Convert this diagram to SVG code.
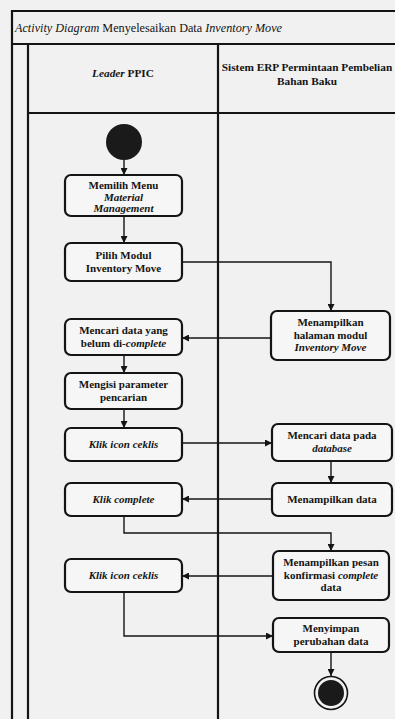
<svg xmlns="http://www.w3.org/2000/svg" width="395" height="719" viewBox="0 0 395 719">
<defs>
<style>
.bg{fill:#f1f1f1}
.lane{stroke:#141414;stroke-width:2.2;fill:none}
.node rect{fill:#f6f6f6;stroke:#141414;stroke-width:2.2}
.node text,.hd{font-family:"Liberation Serif","Times New Roman",serif;font-weight:bold;font-size:11px;fill:#141414;text-anchor:middle}
.hd{font-size:11.3px}
.ttl{font-family:"Liberation Serif","Times New Roman",serif;font-size:12.2px;fill:#141414}
.i{font-style:italic}
#connectors path{stroke:#141414;stroke-width:1.4;fill:none;marker-end:url(#ah)}
</style>
<marker id="ah" viewBox="0 0 10 10" refX="10" refY="5" markerWidth="7" markerHeight="7" markerUnits="userSpaceOnUse" orient="auto">
<path d="M0,0 L10,5 L0,10 z" fill="#141414"/>
</marker>
</defs>
<rect class="bg" x="0" y="0" width="395" height="719"/>
<g id="frame">
<path class="lane" d="M12,719 V11 H398 M12,44 H398 M28,44 V719 M218,44 V719 M28,113 H398"/>
<text class="ttl" x="15" y="32"><tspan class="i">Activity Diagram</tspan> Menyelesaikan Data <tspan class="i">Inventory Move</tspan></text>
<text class="hd" x="123" y="77"><tspan class="i">Leader</tspan> PPIC</text>
<text class="hd" x="307" y="71">Sistem ERP Permintaan Pembelian</text>
<text class="hd" x="307" y="85">Bahan Baku</text>
</g>
<g id="connectors">
<path d="M124,160 V175"/>
<path d="M124,216 V243"/>
<path d="M182,262 H331 V311"/>
<path d="M271,338 H182"/>
<path d="M124,355 V373"/>
<path d="M124,409 V428"/>
<path d="M182,443 H272"/>
<path d="M331,461 V483"/>
<path d="M272,499 H182"/>
<path d="M124,516 V533 H331 V551"/>
<path d="M273,576 H182"/>
<path d="M124,592 V636 H273"/>
<path d="M331,652 V676"/>
</g>
<g id="start"><circle cx="124" cy="142" r="18" fill="#1a1a1a"/></g>
<g id="n1" class="node"><rect x="65" y="175" width="117" height="41" rx="6"/>
<text x="123.5" y="189">Memilih Menu</text><text class="i" x="123.5" y="200.5">Material</text><text class="i" x="123.5" y="212">Management</text></g>
<g id="n2" class="node"><rect x="65" y="243" width="117" height="38" rx="6"/>
<text x="123.5" y="259">Pilih Modul</text><text x="123.5" y="272">Inventory Move</text></g>
<g id="n3" class="node"><rect x="271" y="311" width="119" height="49" rx="6"/>
<text x="330.5" y="326">Menampilkan</text><text x="330.5" y="338.5">halaman modul</text><text class="i" x="330.5" y="351">Inventory Move</text></g>
<g id="n4" class="node"><rect x="65" y="319" width="117" height="36" rx="6"/>
<text x="123.5" y="334">Mencari data yang</text><text x="123.5" y="347">belum di-<tspan class="i">complete</tspan></text></g>
<g id="n5" class="node"><rect x="65" y="373" width="117" height="36" rx="6"/>
<text x="123.5" y="388">Mengisi parameter</text><text x="123.5" y="401">pencarian</text></g>
<g id="n6" class="node"><rect x="65" y="428" width="117" height="33" rx="6"/>
<text class="i" x="123.5" y="448">Klik icon ceklis</text></g>
<g id="n7" class="node"><rect x="272" y="424" width="120" height="37" rx="6"/>
<text x="332" y="439">Mencari data pada</text><text class="i" x="332" y="452">database</text></g>
<g id="n8" class="node"><rect x="272" y="483" width="120" height="33" rx="6"/>
<text x="332" y="503">Menampilkan data</text></g>
<g id="n9" class="node"><rect x="65" y="483" width="117" height="33" rx="6"/>
<text class="i" x="123.5" y="503">Klik complete</text></g>
<g id="n10" class="node"><rect x="273" y="551" width="116" height="49" rx="6"/>
<text x="331" y="566">Menampilkan pesan</text><text x="331" y="578.5">konfirmasi <tspan class="i">complete</tspan></text><text x="331" y="591">data</text></g>
<g id="n11" class="node"><rect x="65" y="559" width="117" height="33" rx="6"/>
<text class="i" x="123.5" y="579">Klik icon ceklis</text></g>
<g id="n12" class="node"><rect x="273" y="618" width="116" height="34" rx="6"/>
<text x="331" y="632">Menyimpan</text><text x="331" y="645">perubahan data</text></g>
<g id="end"><circle cx="331" cy="693" r="16.5" fill="none" stroke="#141414" stroke-width="1.6"/><circle cx="331" cy="693" r="13" fill="#1a1a1a"/></g>
</svg>
